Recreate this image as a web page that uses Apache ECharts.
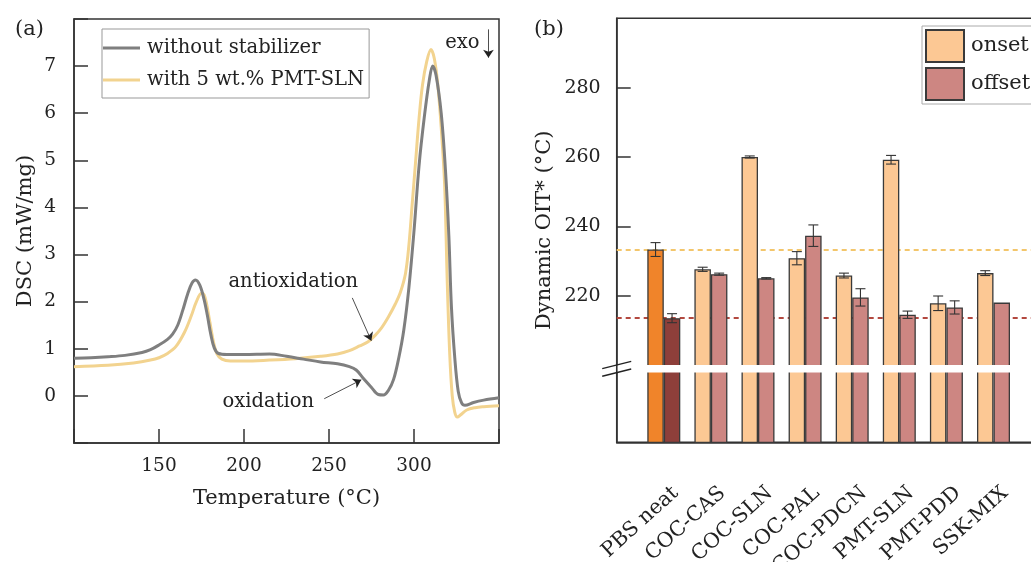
<!DOCTYPE html>
<html>
<head>
<meta charset="utf-8">
<script src="https://cdn.jsdelivr.net/npm/echarts@6/dist/echarts.min.js"></script>
<style>
  html, body { margin: 0; padding: 0; background: #fff; }
  #chart { width: 1031px; height: 562px; }
</style>
</head>
<body>
<div id="chart"></div>
<script>
// (a) DSC traces, temperature in °C, heat flow in mW/mg
const tempPlain = [100, 110, 120, 130, 140, 145, 150, 155, 158, 161, 164, 167, 169.5, 171.5, 174, 176.5, 178.5, 180.5, 182.5, 185, 190,
  200, 215, 225, 235, 245, 255, 262, 266, 270, 275, 279, 282, 285, 288, 291, 294, 297, 300, 303, 306, 309, 311, 313, 316,
  318.5, 320.5, 322, 324, 326, 328, 330, 335, 341, 350]
const dscPlain = [0.80, 0.81, 0.83, 0.86, 0.92, 0.98, 1.08, 1.2, 1.31, 1.5, 1.82, 2.18, 2.4, 2.46, 2.35, 2.05, 1.7, 1.3, 1.02, 0.9, 0.88,
  0.88, 0.89, 0.84, 0.78, 0.72, 0.68, 0.62, 0.55, 0.38, 0.18, 0.03, 0.02, 0.12, 0.35, 0.8, 1.4, 2.3, 3.5, 4.9, 5.9, 6.7, 7.0, 6.8, 6.0,
  4.8, 3.4, 1.9, 0.8, 0.1, -0.15, -0.2, -0.14, -0.09, -0.04]
const tempPmt = [100, 120, 135, 145, 150, 155, 160, 165, 169, 172, 175, 176.5, 178, 180, 182, 184, 187, 192, 200, 215, 230, 245,
  255, 262, 268, 273, 277, 281, 285, 289, 292, 295, 297, 299, 301, 303, 305, 307.5, 310, 312, 314, 316, 318, 319.5, 321,
  322.5, 324, 325.5, 327.5, 331, 336, 341, 350]
const dscPmt = [0.62, 0.65, 0.70, 0.76, 0.81, 0.90, 1.05, 1.35, 1.7, 2.0, 2.18, 2.15, 1.95, 1.55, 1.15, 0.9, 0.78, 0.74, 0.74, 0.76, 0.79, 0.84,
  0.89, 0.96, 1.06, 1.15, 1.28, 1.45, 1.68, 1.95, 2.2, 2.6, 3.2, 4.1, 5.0, 5.9, 6.6, 7.1, 7.35, 7.15, 6.6, 5.7, 4.5, 2.5, 0.9,
  0.0, -0.35, -0.45, -0.4, -0.3, -0.25, -0.23, -0.21]

// (b) dynamic OIT, °C
const samples = ['PBS neat', 'COC-CAS', 'COC-SLN', 'COC-PAL', 'COC-PDCN', 'PMT-SLN', 'PMT-PDD', 'SSK-MIX']
const onset = [233.3, 227.6, 260.0, 230.8, 225.8, 259.2, 217.8, 226.5]
const onsetErr = [2.0, 0.6, 0.3, 1.9, 0.7, 1.25, 2.1, 0.7]
const offset = [213.5, 226.2, 225.0, 237.3, 219.5, 214.5, 216.6, 218.0]
const offsetErr = [1.3, 0.3, 0.2, 3.1, 2.5, 1.05, 1.9, 0]
const oitTicks = [220, 240, 260, 280]
const axisBreak = [197.8, 200.0]

const serif = 'DejaVu Serif'
const ink = '#333'
const barW = 16.5
const labelShift = 0.25

const zip = (xs, ys) => xs.map((x, i) => [x, ys[i]])

function renderErr(params, api) {
  const x = api.value(0), v = api.value(1), e = api.value(2), side = api.value(3)
  if (!e) return
  const lo = api.coord([x, v - e]), hi = api.coord([x, v + e])
  const cx = lo[0] + side * barW / 2
  const cap = 5
  const style = { stroke: ink, lineWidth: 1.1 }
  return {
    type: 'group',
    children: [
      { type: 'line', shape: { x1: cx, y1: lo[1], x2: cx, y2: hi[1] }, style },
      { type: 'line', shape: { x1: cx - cap, y1: lo[1], x2: cx + cap, y2: lo[1] }, style },
      { type: 'line', shape: { x1: cx - cap, y1: hi[1], x2: cx + cap, y2: hi[1] }, style },
    ],
  }
}

function renderBreak(params, api) {
  const top = api.coord([0, api.value(2)])
  const bot = api.coord([9, api.value(1)])
  const x0 = top[0]
  const style = { stroke: '#222', lineWidth: 1.4 }
  return {
    type: 'group',
    children: [
      { type: 'rect', shape: { x: x0 + 1, y: top[1], width: bot[0] - x0, height: bot[1] - top[1] }, style: { fill: '#fff' } },
      { type: 'line', shape: { x1: x0 - 14.5, y1: top[1] + 3.6, x2: x0 + 14.5, y2: top[1] - 3.6 }, style },
      { type: 'line', shape: { x1: x0 - 14.5, y1: bot[1] + 3.6, x2: x0 + 14.5, y2: bot[1] - 3.6 }, style },
    ],
  }
}

const axisLine = { onZero: false, lineStyle: { color: ink, width: 1.5 } }
const tick = { inside: true, length: 14, lineStyle: { color: ink, width: 1.5 } }
const label = { color: '#222', fontFamily: serif, fontSize: 18.5 }

const chart = echarts.init(document.getElementById('chart'))
chart.setOption({
  animation: false,
  textStyle: { fontFamily: serif },
  title: [
    { text: '(a)', left: 10, top: 14, textStyle: { fontFamily: serif, fontSize: 21, fontWeight: 'normal', color: '#222' } },
    { text: '(b)', left: 529, top: 14, textStyle: { fontFamily: serif, fontSize: 21, fontWeight: 'normal', color: '#222' } },
  ],
  grid: [
    { left: 74, top: 19, right: 532, bottom: 119, show: true, borderColor: ink, borderWidth: 1.5, outerBoundsMode: 'none' },
    { left: 616.7, top: 18.3, right: -9.6, bottom: 119.7, show: true, borderColor: ink, borderWidth: 1.5, outerBoundsMode: 'none' },
  ],
  legend: [
    {
      data: ['without stabilizer', 'with 5 wt.% PMT-SLN'],
      left: 102, top: 29, orient: 'vertical', icon: 'rect',
      itemWidth: 37, itemHeight: 3, itemGap: 10,
      padding: [8, 5, 7, 1],
      borderColor: '#999', borderWidth: 1,
      textStyle: { fontFamily: serif, fontSize: 19.5, lineHeight: 22, color: '#222', padding: [0, 0, 0, 2] },
    },
    {
      data: ['onset', 'offset'],
      left: 922, top: 26, orient: 'vertical', icon: 'rect',
      itemWidth: 38, itemHeight: 32, itemGap: 4,
      padding: [3, 8, 3, 3],
      borderColor: '#aaa', borderWidth: 1,
      textStyle: { fontFamily: serif, fontSize: 21, color: '#222', padding: [0, 0, 0, 2] },
    },
  ],
  xAxis: [
    {
      gridIndex: 0, type: 'value', min: 100, max: 350, interval: 50,
      name: 'Temperature (°C)', nameLocation: 'middle', nameGap: 45,
      nameTextStyle: { fontFamily: serif, fontSize: 21, color: '#222' },
      axisLine, axisTick: tick, splitLine: { show: false },
      axisLabel: { ...label, margin: 14, formatter: v => (v === 100 || v === 350 ? '' : v) },
    },
    {
      gridIndex: 1, type: 'value', min: 0, max: 9, interval: 1,
      axisLine, axisTick: { show: false }, splitLine: { show: false },
      axisLabel: {
        ...label, fontSize: 20.5, rotate: 42, margin: 48,
        customValues: samples.map((s, i) => i + 1 + labelShift),
        formatter: v => samples[Math.round(v - labelShift) - 1] || '',
      },
    },
  ],
  yAxis: [
    {
      gridIndex: 0, type: 'value', min: -1, max: 8, interval: 1,
      name: 'DSC (mW/mg)', nameLocation: 'middle', nameGap: 38,
      nameTextStyle: { fontFamily: serif, fontSize: 21, color: '#222' },
      axisLine, axisTick: tick, splitLine: { show: false },
      axisLabel: { ...label, margin: 18, formatter: v => (v < 0 || v > 7 ? '' : v) },
    },
    {
      gridIndex: 1, type: 'value', min: 177.7, max: 300,
      name: 'Dynamic OIT* (°C)', nameLocation: 'middle', nameGap: 62,
      nameTextStyle: { fontFamily: serif, fontSize: 21, color: '#222' },
      axisLine, splitLine: { show: false },
      axisTick: { ...tick, customValues: oitTicks },
      axisLabel: { ...label, fontSize: 19, margin: 16, customValues: oitTicks },
    },
  ],
  series: [
    {
      name: 'without stabilizer', type: 'line', xAxisIndex: 0, yAxisIndex: 0,
      data: zip(tempPlain, dscPlain), symbol: 'none', smooth: 0.35,
      lineStyle: { color: '#7f7f7f', width: 3 }, itemStyle: { color: '#7f7f7f' }, z: 3,
      markLine: {
        silent: true, symbol: ['none', 'arrow'], symbolSize: 8, z: 6,
        label: { show: false },
        lineStyle: { color: '#222', width: 0.8, type: 'solid' },
        data: [
          [{ coord: [263.7, 2.08] }, { coord: [274.9, 1.17] }],
          [{ coord: [247.2, -0.06] }, { coord: [269, 0.34] }],
          [{ coord: [343.8, 7.78] }, { coord: [343.8, 7.18] }],
        ],
      },
      markPoint: {
        silent: true, symbol: 'circle', symbolSize: 1, itemStyle: { color: 'rgba(0,0,0,0)' },
        label: { show: true, position: 'inside', color: '#222', fontFamily: serif, fontSize: 19.5 },
        data: [
          { coord: [229, 2.42], value: 'antioxidation' },
          { coord: [214.3, -0.13], value: 'oxidation' },
          { coord: [328.5, 7.5], value: 'exo' },
        ],
      },
    },
    {
      name: 'with 5 wt.% PMT-SLN', type: 'line', xAxisIndex: 0, yAxisIndex: 0,
      data: zip(tempPmt, dscPmt), symbol: 'none', smooth: 0.35,
      lineStyle: { color: '#f2d38f', width: 3 }, itemStyle: { color: '#f2d38f' }, z: 2,
    },
    {
      name: 'onset', type: 'bar', xAxisIndex: 1, yAxisIndex: 1,
      barWidth: barW, barGap: '0%',
      data: onset.map((v, i) => (i === 0 ? { value: [i + 1, v], itemStyle: { color: '#f0842a' } } : [i + 1, v])),
      itemStyle: { color: '#fcc894', borderColor: '#3a3a3a', borderWidth: 1.3 },
      markLine: {
        silent: true, symbol: 'none', z: 1, label: { show: false },
        data: [
          { yAxis: onset[0], lineStyle: { color: '#f3c66c', width: 2, type: [5, 4] } },
          { yAxis: offset[0], lineStyle: { color: '#b3483f', width: 2, type: [5, 4] } },
        ],
      },
    },
    {
      name: 'offset', type: 'bar', xAxisIndex: 1, yAxisIndex: 1,
      barWidth: barW, barGap: '0%',
      data: offset.map((v, i) => (i === 0 ? { value: [i + 1, v], itemStyle: { color: '#8e3f3a' } } : [i + 1, v])),
      itemStyle: { color: '#cd8682', borderColor: '#3a3a3a', borderWidth: 1.3 },
    },
    {
      name: 'error', type: 'custom', xAxisIndex: 1, yAxisIndex: 1, z: 4,
      renderItem: renderErr,
      data: [
        ...onset.map((v, i) => [i + 1, v, onsetErr[i], -1]),
        ...offset.map((v, i) => [i + 1, v, offsetErr[i], 1]),
      ],
    },
    {
      name: 'break', type: 'custom', xAxisIndex: 1, yAxisIndex: 1, z: 5, silent: true,
      renderItem: renderBreak,
      data: [[0, axisBreak[0], axisBreak[1]]],
    },
  ],
})
</script>
</body>
</html>
